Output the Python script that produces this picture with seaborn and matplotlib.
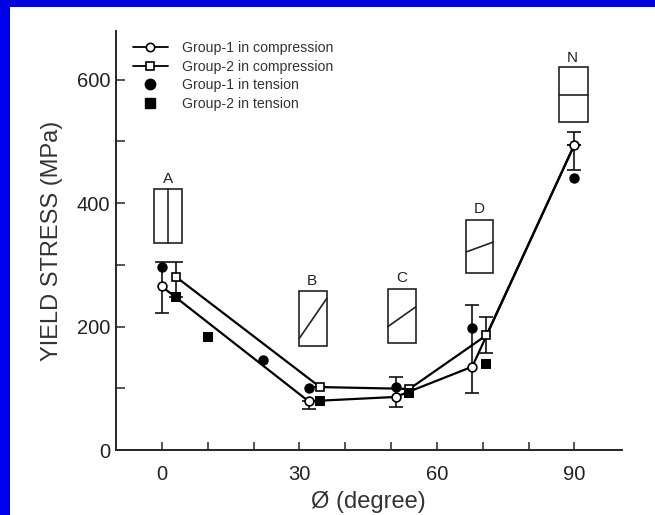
import matplotlib
matplotlib.use('Agg')
import matplotlib.pyplot as plt
from matplotlib.lines import Line2D
from matplotlib.patches import Rectangle
import pandas as pd
import seaborn as sns

# Compression curves
g1_comp_x = [0, 32, 51, 67.7, 90]
g1_comp_y = [265, 79, 86, 135, 495]
g1_comp_hi = [305, 79, 118, 235, 516]
g1_comp_lo = [222, 66, 69, 93, 454]

g2_comp_x = [3, 34.5, 54, 70.8, 90]
g2_comp_y = [281, 102, 99, 186, 495]
g2_comp_hi = [305, 102, 99, 216, 495]
g2_comp_lo = [248, 102, 99, 158, 495]

# Tension points
g1_tens_x = [0, 22, 32, 51, 67.7, 90]
g1_tens_y = [297, 146, 100, 102, 198, 441]
g2_tens_x = [3, 10, 34.5, 54, 70.8]
g2_tens_y = [248, 183, 79, 93, 139]

# Inset boxes: label, x range, y range, line ends
box_labels = ['A', 'B', 'C', 'D', 'N']
box_x0 = [-1.75, 30, 49.3, 66.4, 86.7]
box_x1 = [4.4, 36, 55.4, 72.3, 93]
box_y0 = [336, 169, 174, 287, 532]
box_y1 = [423, 258, 261, 373, 620]
line_x0 = [1.3, 30, 49.3, 66.4, 86.7]
line_x1 = [1.3, 36, 55.4, 72.3, 93]
line_y0 = [336, 181, 200, 321, 575]
line_y1 = [423, 246, 232, 337, 575]
label_x = [1.3, 32.7, 52.3, 69.2, 89.6]
label_y = [439, 274, 278, 390, 635]

x_ticks = [0, 10, 20, 30, 40, 50, 60, 70, 80, 90]
x_labels = ['0', '', '', '30', '', '', '60', '', '', '90']
y_ticks = [0, 100, 200, 300, 400, 500, 600]
y_labels = ['0', '', '200', '', '400', '', '600']

sns.set_style('ticks')
plt.rcParams['font.family'] = ['Liberation Sans', 'DejaVu Sans']

fig = plt.figure(figsize=(6.55, 5.15), dpi=100)
ax = fig.add_axes([116 / 655, 65 / 515, 505.7 / 655, 419 / 515])
ax.patch.set_alpha(0)

# blue frame on the top and left
fig.add_artist(Rectangle((0, 0), 10 / 655, 1, transform=fig.transFigure, color='#0000f0', lw=0))
fig.add_artist(Rectangle((0, 1 - 7 / 515), 1, 7 / 515, transform=fig.transFigure, color='#0000dc', lw=0))

g1 = pd.DataFrame({'x': g1_comp_x, 'y': g1_comp_y})
g2 = pd.DataFrame({'x': g2_comp_x, 'y': g2_comp_y})
t1 = pd.DataFrame({'x': g1_tens_x, 'y': g1_tens_y})
t2 = pd.DataFrame({'x': g2_tens_x, 'y': g2_tens_y})

for xs, ys, hi, lo in [(g1_comp_x, g1_comp_y, g1_comp_hi, g1_comp_lo),
                       (g2_comp_x, g2_comp_y, g2_comp_hi, g2_comp_lo)]:
    err = [[y - l for y, l in zip(ys, lo)], [h - y for y, h in zip(ys, hi)]]
    ax.errorbar(xs, ys, yerr=err, fmt='none', ecolor='#111111', elinewidth=1.2,
                capsize=5.2, capthick=1.2, zorder=2)

sns.scatterplot(data=t1, x='x', y='y', marker='o', color='black', s=56, linewidth=0, zorder=3, ax=ax)

sns.lineplot(data=g1, x='x', y='y', sort=False, color='black', lw=1.6, errorbar=None, zorder=4, ax=ax)
sns.lineplot(data=g2, x='x', y='y', sort=False, color='black', lw=1.6, marker='s', ms=6.4,
             mfc='white', mec='black', mew=1.2, markevery=[0, 1, 2, 3], errorbar=None, zorder=5, ax=ax)

sns.scatterplot(data=t2, x='x', y='y', marker='s', color='black', s=56, linewidth=0, zorder=6, ax=ax)
# open circles go last so the thick end of the lines stays behind them
sns.scatterplot(data=g1, x='x', y='y', marker='o', facecolor='white', edgecolor='black', s=40,
                linewidth=1.2, zorder=7, ax=ax)

# Inset boxes
for i, name in enumerate(box_labels):
    ax.add_patch(Rectangle((box_x0[i], box_y0[i]), box_x1[i] - box_x0[i], box_y1[i] - box_y0[i],
                           fill=False, ec='#222222', lw=1.2))
    ax.plot([line_x0[i], line_x1[i]], [line_y0[i], line_y1[i]], color='#222222', lw=1.2)
    ax.text(label_x[i], label_y[i], name, ha='center', va='center', fontsize=11, color='#222222')

ax.set_xlim(-10, 100.3)
ax.set_ylim(0, 679)
ax.set_xticks(x_ticks, x_labels)
ax.set_yticks(y_ticks, y_labels)
ax.tick_params(axis='x', direction='in', length=6, width=1.1, pad=11, labelsize=14.5, labelcolor='#222222')
ax.tick_params(axis='y', direction='in', length=6.5, width=1.1, pad=4, labelsize=14.5, labelcolor='#222222')
ax.spines['top'].set_visible(False)
ax.spines['right'].set_visible(False)
ax.spines['left'].set_linewidth(1.4)
ax.spines['bottom'].set_linewidth(1.4)
ax.set_xlabel('Ø (degree)', fontsize=17, color='#333333', labelpad=5)
ax.set_ylabel('YIELD STRESS (MPa)', fontsize=17, color='#333333', labelpad=10)

handles = [
    Line2D([], [], color='black', lw=1.3, marker='o', ms=6, mfc='white', mew=1.2),
    Line2D([], [], color='black', lw=1.3, marker='s', ms=6, mfc='white', mew=1.2),
    Line2D([], [], color='black', lw=0, marker='o', ms=7.5),
    Line2D([], [], color='black', lw=0, marker='s', ms=7.5),
]
names = ['Group-1 in compression', 'Group-2 in compression', 'Group-1 in tension', 'Group-2 in tension']
ax.legend(handles, names, frameon=False, loc='upper left', bbox_to_anchor=(0.034, 0.976),
          borderpad=0, borderaxespad=0, handlelength=2.45, handletextpad=1.0,
          labelspacing=0.33, fontsize=10.15, labelcolor='#333333')

fig.savefig('out.png', dpi=100)
